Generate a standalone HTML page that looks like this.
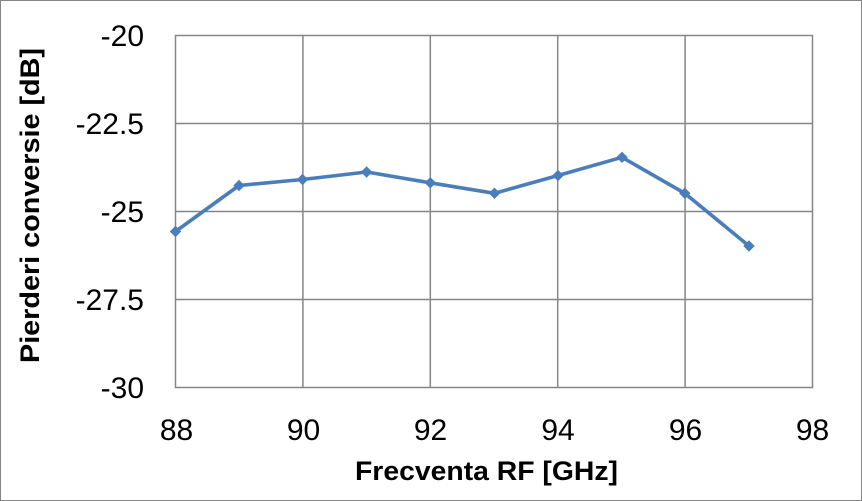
<!DOCTYPE html>
<html><head><meta charset="utf-8"><style>
html,body{margin:0;padding:0;background:#fff;}
svg{display:block;}
</style></head><body>
<svg width="862" height="501" viewBox="0 0 862 501" xmlns="http://www.w3.org/2000/svg">
<rect x="0.5" y="0.5" width="861" height="500" fill="#fff" stroke="#868686" stroke-width="1"/>
<g stroke="#868686" stroke-width="1.5" fill="none">
<rect x="175.5" y="35.5" width="637" height="352"/>
<line x1="302.9" y1="35.5" x2="302.9" y2="387.5"/>
<line x1="430.3" y1="35.5" x2="430.3" y2="387.5"/>
<line x1="557.7" y1="35.5" x2="557.7" y2="387.5"/>
<line x1="685.1" y1="35.5" x2="685.1" y2="387.5"/>
<line x1="175.5" y1="123.5" x2="812.5" y2="123.5"/>
<line x1="175.5" y1="211.5" x2="812.5" y2="211.5"/>
<line x1="175.5" y1="299.5" x2="812.5" y2="299.5"/>
</g>
<g font-family="Liberation Sans, sans-serif" font-size="30" fill="#000" text-anchor="end">
<text x="144" y="46">-20</text>
<text x="144" y="134">-22.5</text>
<text x="144" y="222">-25</text>
<text x="144" y="310">-27.5</text>
<text x="144" y="398">-30</text>
</g>
<g font-family="Liberation Sans, sans-serif" font-size="30" fill="#000" text-anchor="middle">
<text x="176.5" y="440">88</text>
<text x="303.5" y="440">90</text>
<text x="430.5" y="440">92</text>
<text x="558" y="440">94</text>
<text x="685.5" y="440">96</text>
<text x="812.5" y="440">98</text>
</g>
<text x="355" y="480" font-family="Liberation Sans, sans-serif" font-weight="bold" font-size="27" fill="#000" textLength="263" lengthAdjust="spacingAndGlyphs">Frecventa RF [GHz]</text>
<text transform="translate(39,363) rotate(-90)" x="0" y="0" font-family="Liberation Sans, sans-serif" font-weight="bold" font-size="27" fill="#000" textLength="315" lengthAdjust="spacingAndGlyphs">Pierderi conversie [dB]</text>
<polyline fill="none" stroke="#4A7EBB" stroke-width="3.6" stroke-linejoin="round" points="175.5,231.5 239,185.5 302.5,179.5 366.6,172 430.3,182.8 494.5,193.3 558,175.5 622,157.3 684.8,193.3 749,246"/>
<g fill="#4A7EBB">
<path d="M175.5,225.8 l5.7,5.7 l-5.7,5.7 l-5.7,-5.7z"/>
<path d="M239,179.8 l5.7,5.7 l-5.7,5.7 l-5.7,-5.7z"/>
<path d="M302.5,173.8 l5.7,5.7 l-5.7,5.7 l-5.7,-5.7z"/>
<path d="M366.6,166.3 l5.7,5.7 l-5.7,5.7 l-5.7,-5.7z"/>
<path d="M430.3,177.1 l5.7,5.7 l-5.7,5.7 l-5.7,-5.7z"/>
<path d="M494.5,187.6 l5.7,5.7 l-5.7,5.7 l-5.7,-5.7z"/>
<path d="M558,169.8 l5.7,5.7 l-5.7,5.7 l-5.7,-5.7z"/>
<path d="M622,151.6 l5.7,5.7 l-5.7,5.7 l-5.7,-5.7z"/>
<path d="M684.8,187.6 l5.7,5.7 l-5.7,5.7 l-5.7,-5.7z"/>
<path d="M749,240.3 l5.7,5.7 l-5.7,5.7 l-5.7,-5.7z"/>
</g>
</svg>
</body></html>
